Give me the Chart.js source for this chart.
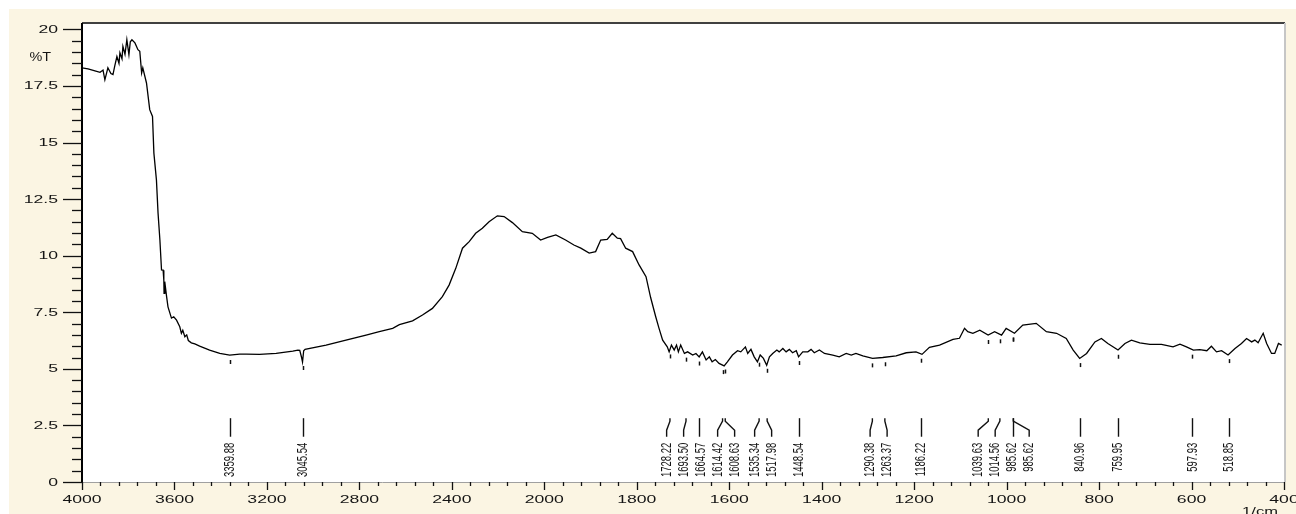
<!DOCTYPE html>
<html>
<head>
<meta charset="utf-8">
<title>IR spectrum</title>
<script src="https://cdn.jsdelivr.net/npm/chart.js@4.4.1/dist/chart.umd.min.js"></script>
<style>
  html, body { margin: 0; padding: 0; background: #ffffff; overflow: hidden; }
  #wrap { position: absolute; left: 0; top: 0; width: 1296px; height: 514px; }
</style>
</head>
<body>
<div id="wrap"><canvas id="ir"></canvas></div>
<script>
// Spectrum trace: wavenumber (1/cm) and transmittance (%T)
const wavenumbers = [
  4000, 3974, 3944, 3922, 3909, 3901, 3888, 3875, 3866, 3858, 3849, 3840, 3836, 3827, 3823, 3814,
  3806, 3797, 3791, 3784, 3771, 3758, 3750, 3742, 3737, 3721, 3707, 3695, 3689, 3678, 3671, 3663,
  3656, 3649, 3646, 3645, 3642, 3634, 3628, 3613, 3603, 3591, 3577, 3570, 3564, 3555, 3547, 3540,
  3527, 3512, 3491, 3448, 3404, 3361, 3318, 3289, 3232, 3160, 3088, 3066, 3058, 3050, 3046, 3041,
  3035, 2944, 2858, 2771, 2714, 2656, 2627, 2570, 2527, 2484, 2441, 2412, 2383, 2354, 2325, 2297,
  2268, 2239, 2203, 2174, 2138, 2095, 2052, 2016, 1993, 1975, 1954, 1936, 1921, 1903, 1889, 1878,
  1864, 1853, 1842, 1835, 1824, 1809, 1795, 1780, 1770, 1759, 1752, 1744, 1734, 1730, 1725, 1719,
  1714, 1710, 1705, 1697, 1690, 1679, 1672, 1665, 1658, 1650, 1643, 1637, 1630, 1622, 1611, 1604,
  1593, 1582, 1575, 1565, 1560, 1553, 1546, 1539, 1533, 1526, 1519, 1513, 1506, 1497, 1492, 1484,
  1477, 1470, 1463, 1455, 1450, 1441, 1430, 1423, 1416, 1405, 1394, 1376, 1362, 1347, 1336, 1326,
  1311, 1290, 1268, 1239, 1217, 1196, 1183, 1167, 1145, 1116, 1102, 1091, 1084, 1073, 1058, 1040,
  1026, 1011, 1001, 983, 965, 936, 914, 892, 871, 856, 842, 827, 809, 795, 781, 759,
  744, 730, 712, 690, 665, 640, 625, 611, 596, 582, 567, 557, 546, 535, 521, 506,
  492, 481, 470, 463, 456, 445, 437.5, 427, 420, 412, 405
];
const transmittance = [
  18.30, 18.25, 18.17, 18.10, 18.20, 17.77, 18.30, 18.05, 18.00, 18.40, 18.80, 18.50, 18.96, 18.70, 19.25, 18.90,
  19.54, 18.88, 19.45, 19.54, 19.40, 19.10, 19.03, 18.07, 18.30, 17.63, 16.45, 16.15, 14.53, 13.35, 11.88, 10.69,
  9.37, 9.36, 8.92, 8.33, 8.85, 8.19, 7.74, 7.24, 7.30, 7.15, 6.86, 6.57, 6.70, 6.42, 6.50, 6.25,
  6.15, 6.10, 6.00, 5.83, 5.68, 5.61, 5.65, 5.65, 5.64, 5.68, 5.78, 5.83, 5.82, 5.50, 5.30, 5.80,
  5.86, 6.05, 6.27, 6.49, 6.64, 6.79, 6.95, 7.12, 7.38, 7.67, 8.19, 8.70, 9.44, 10.33, 10.62, 10.99,
  11.21, 11.50, 11.76, 11.73, 11.46, 11.06, 10.99, 10.69, 10.81, 10.92, 10.69, 10.47, 10.33, 10.11, 10.18, 10.69,
  10.72, 10.99, 10.77, 10.75, 10.33, 10.18, 9.59, 9.07, 8.15, 7.30, 6.80, 6.27, 5.97, 5.75, 6.05, 5.83,
  6.05, 5.75, 6.05, 5.68, 5.75, 5.61, 5.68, 5.53, 5.75, 5.39, 5.53, 5.31, 5.41, 5.24, 5.13, 5.31,
  5.61, 5.80, 5.75, 5.97, 5.68, 5.86, 5.53, 5.31, 5.61, 5.46, 5.16, 5.53, 5.68, 5.83, 5.75, 5.90,
  5.75, 5.86, 5.71, 5.80, 5.53, 5.75, 5.75, 5.86, 5.71, 5.83, 5.68, 5.61, 5.53, 5.68, 5.61, 5.68,
  5.57, 5.46, 5.50, 5.57, 5.71, 5.75, 5.64, 5.95, 6.05, 6.30, 6.35, 6.79, 6.64, 6.57, 6.71, 6.49,
  6.64, 6.49, 6.79, 6.57, 6.93, 7.01, 6.64, 6.57, 6.34, 5.83, 5.46, 5.68, 6.19, 6.34, 6.12, 5.83,
  6.12, 6.27, 6.15, 6.08, 6.08, 5.97, 6.09, 5.97, 5.83, 5.85, 5.80, 6.00, 5.75, 5.80, 5.61, 5.90,
  6.12, 6.34, 6.19, 6.27, 6.15, 6.57, 6.12, 5.68, 5.68, 6.12, 6.05
];

// Picked peaks and their printed labels
const peakWavenumbers = [3359.88, 3045.54, 1728.22, 1693.50, 1664.57, 1614.42, 1608.63, 1535.34, 1517.98,
  1448.54, 1290.38, 1263.37, 1186.22, 1039.63, 1014.56, 985.62, 985.62, 840.96, 759.95, 597.93, 518.85];
const peakLabels = ['3359.88', '3045.54', '1728.22', '1693.50', '1664.57', '1614.42', '1608.63', '1535.34', '1517.98',
  '1448.54', '1290.38', '1263.37', '1186.22', '1039.63', '1014.56', '985.62', '985.62', '840.96', '759.95', '597.93', '518.85'];

// Axis ticks
const xMajorTicks = [4000, 3600, 3200, 2800, 2400, 2000, 1800, 1600, 1400, 1200, 1000, 800, 600, 400];
const yMajorTicks = [0, 2.5, 5, 7.5, 10, 12.5, 15, 17.5, 20];
const xUnitLabel = '1/cm';
const yUnitLabel = '%T';

// Wavenumber axis with doubled expansion below 2000 1/cm
const X_BREAK = 2000;
class SplitWavenumberScale extends Chart.LinearScale {
  static id = 'splitWavenumber';
  static defaults = Chart.LinearScale.defaults;
  spanOf(v) {
    return v >= X_BREAK ? this.max - v : (this.max - X_BREAK) + 2 * (X_BREAK - v);
  }
  getPixelForValue(v) {
    return this.getPixelForDecimal(this.spanOf(v) / this.spanOf(this.min));
  }
  getValueForPixel(p) {
    const s = this.getDecimalForPixel(p) * this.spanOf(this.min);
    const a = this.max - X_BREAK;
    return s <= a ? this.max - s : X_BREAK - (s - a) / 2;
  }
}
Chart.register(SplitWavenumberScale);

const FONT = "'Liberation Sans', Arial, sans-serif";
const TEXT_COLOR = '#141414';
const STRETCH = 1.6;

function stretchedText(ctx, text, x, y, sx, align, baseline, size) {
  ctx.save();
  ctx.translate(x, y);
  ctx.scale(sx, 1);
  ctx.font = size + 'px ' + FONT;
  ctx.textAlign = align;
  ctx.textBaseline = baseline;
  ctx.fillText(text, 0, 0);
  ctx.restore();
}

function line(ctx, pts, width, color) {
  ctx.save();
  ctx.beginPath();
  ctx.moveTo(pts[0][0], pts[0][1]);
  for (let i = 1; i < pts.length; i++) ctx.lineTo(pts[i][0], pts[i][1]);
  ctx.lineWidth = width;
  ctx.strokeStyle = color;
  ctx.stroke();
  ctx.restore();
}

function curveAt(wn) {
  for (let i = 1; i < wavenumbers.length; i++) {
    if (wavenumbers[i] <= wn) {
      const w0 = wavenumbers[i - 1], w1 = wavenumbers[i];
      const t = (w0 - wn) / (w0 - w1);
      return transmittance[i - 1] + t * (transmittance[i] - transmittance[i - 1]);
    }
  }
  return transmittance[transmittance.length - 1];
}

// Spread crowded peak labels apart, keeping each group centred on its peaks
function spreadLabels(xs, gap) {
  let groups = xs.map(x => ({ items: [x], start: x }));
  let changed = true;
  while (changed) {
    changed = false;
    for (let i = 1; i < groups.length; i++) {
      const a = groups[i - 1], b = groups[i];
      const aEnd = a.start + (a.items.length - 1) * gap;
      if (b.start < aEnd + gap) {
        const items = a.items.concat(b.items);
        const mean = items.reduce((s, v) => s + v, 0) / items.length;
        groups.splice(i - 1, 2, { items, start: mean - (items.length - 1) * gap / 2 });
        changed = true;
        break;
      }
    }
  }
  const out = [];
  groups.forEach(g => g.items.forEach((_, k) => out.push(g.start + k * gap)));
  return out;
}

const framePlugin = {
  id: 'irFrame',
  beforeDraw(chart) {
    const { ctx, width, height, chartArea: ca } = chart;
    ctx.save();
    ctx.fillStyle = '#ffffff';
    ctx.fillRect(0, 0, width, height);
    ctx.fillStyle = '#fbf5e3';
    ctx.fillRect(9, 9, width - 9, height - 9);
    ctx.fillStyle = '#ffffff';
    ctx.fillRect(ca.left, ca.top, ca.right - ca.left, ca.bottom - ca.top);
    ctx.restore();
  },
  afterDraw(chart) {
    const { ctx, chartArea: ca } = chart;
    const xs = chart.scales.x, ys = chart.scales.y;

    // frame
    line(ctx, [[ca.left, ca.top], [ca.right + 1, ca.top]], 2, '#404040');
    line(ctx, [[ca.right + 1, ca.top], [ca.right + 1, ca.bottom]], 2, '#c6c6c6');
    line(ctx, [[ca.left, ca.bottom + 0.5], [ca.right, ca.bottom + 0.5]], 1, '#a0a0a0');
    line(ctx, [[ca.left, ca.top], [ca.left, ca.bottom + 1]], 2, '#000000');

    ctx.fillStyle = TEXT_COLOR;

    // y axis ticks and labels
    for (let v = 0; v <= 20.001; v += 0.5) {
      const y = Math.round(ys.getPixelForValue(v)) + 0.5;
      const major = Math.abs(v / 2.5 - Math.round(v / 2.5)) < 1e-6;
      line(ctx, [[ca.left - (major ? 19 : 10), y], [ca.left, y]], 1.3, '#111');
    }
    yMajorTicks.forEach(v => {
      stretchedText(ctx, String(v), ca.left - 24, ys.getPixelForValue(v) + 0.5, STRETCH, 'right', 'middle', 11);
    });
    stretchedText(ctx, yUnitLabel, ca.left - 31, ys.getPixelForValue(18.75), 1.2, 'right', 'middle', 12);

    // x axis ticks and labels
    for (let i = 0; i < xMajorTicks.length - 1; i++) {
      const a = xMajorTicks[i], b = xMajorTicks[i + 1];
      for (let k = 1; k < 5; k++) {
        const x = Math.round(xs.getPixelForValue(a + (b - a) * k / 5)) + 0.5;
        line(ctx, [[x, ca.bottom], [x, ca.bottom + 4]], 1.3, '#111');
      }
    }
    xMajorTicks.forEach(v => {
      const x = Math.round(xs.getPixelForValue(v)) + 0.5;
      line(ctx, [[x, ca.bottom], [x, ca.bottom + 8]], 1.3, '#111');
      stretchedText(ctx, String(v), xs.getPixelForValue(v), ca.bottom + 17.5, STRETCH, 'center', 'middle', 11);
    });
    stretchedText(ctx, xUnitLabel, ca.right - 24, ca.bottom + 24, 1.5, 'center', 'top', 11);

    // peak markers, leaders and labels
    const px = peakWavenumbers.map(w => xs.getPixelForValue(w));
    const lx = spreadLabels(px, 17);
    const yTop = ys.getPixelForValue(2.82);
    const yBot = ys.getPixelForValue(2.0);
    peakWavenumbers.forEach((w, i) => {
      const cy = ys.getPixelForValue(curveAt(w));
      const x = Math.round(px[i]) + 0.5;
      line(ctx, [[x, cy + 5], [x, cy + 9]], 1.5, '#111');
      if (Math.abs(lx[i] - px[i]) < 1.5) {
        line(ctx, [[x, yTop], [x, yBot]], 1.4, '#111');
      } else {
        line(ctx, [[px[i], yTop], [px[i], yTop + 3], [lx[i], yTop + 12], [lx[i], yBot]], 1.4, '#111');
      }
      ctx.save();
      ctx.translate(lx[i], yBot + 6);
      ctx.scale(STRETCH, 1);
      ctx.rotate(-Math.PI / 2);
      ctx.font = '9.5px ' + FONT;
      ctx.textAlign = 'right';
      ctx.textBaseline = 'middle';
      ctx.fillStyle = TEXT_COLOR;
      ctx.fillText(peakLabels[i], 0, 0);
      ctx.restore();
    });
  }
};

new Chart(document.getElementById('ir'), {
  type: 'line',
  data: {
    datasets: [{
      data: wavenumbers.map((w, i) => ({ x: w, y: transmittance[i] })),
      borderColor: '#000000',
      borderWidth: 1.3,
      pointRadius: 0,
      tension: 0,
      fill: false
    }]
  },
  options: {
    responsive: true,
    maintainAspectRatio: false,
    devicePixelRatio: 1,
    animation: false,
    events: [],
    layout: { padding: { top: 23, right: 12, left: 0, bottom: 0 } },
    plugins: { legend: { display: false }, tooltip: { enabled: false } },
    scales: {
      x: {
        type: 'splitWavenumber',
        min: 400,
        max: 4000,
        grid: { display: false },
        border: { display: false },
        ticks: { display: false },
        afterFit: s => { s.height = 32; }
      },
      y: {
        type: 'linear',
        min: 0,
        max: 20.28,
        grid: { display: false },
        border: { display: false },
        ticks: { display: false },
        afterFit: s => { s.width = 82; }
      }
    }
  },
  plugins: [framePlugin]
});
</script>
</body>
</html>
